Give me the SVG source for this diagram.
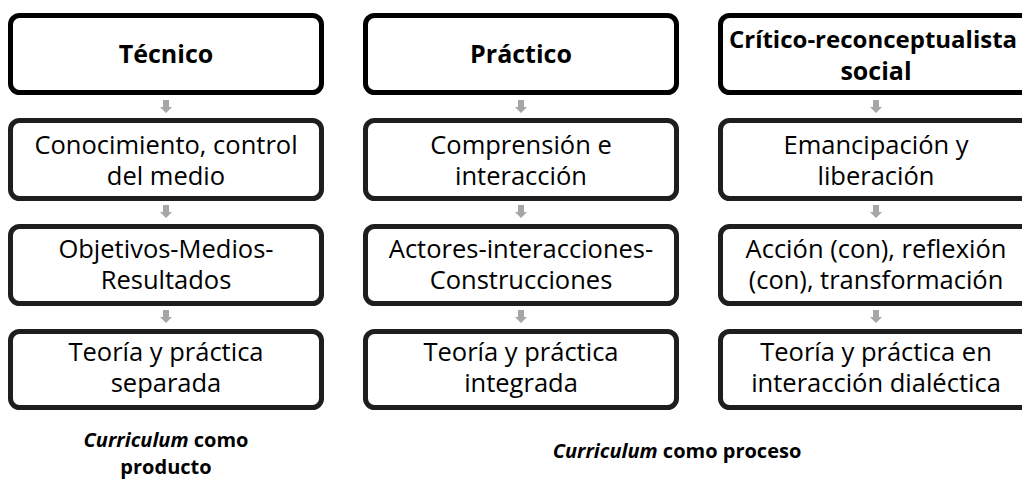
<svg xmlns="http://www.w3.org/2000/svg" width="1022" height="481" viewBox="0 0 1022 481">
<style>
.bg{fill:#fff}
.box{fill:#fff;stroke:#1e1e1e;stroke-width:5}
.top{stroke:#000}
.t{font-family:"Open Sans","Noto Sans",sans-serif;font-size:25.5px;fill:#000;text-anchor:middle}
.h{font-family:"Open Sans","Noto Sans",sans-serif;font-size:25px;font-weight:bold;fill:#000;text-anchor:middle}
.h2{font-size:24px}
.c{font-family:"Open Sans","Noto Sans",sans-serif;font-size:20px;font-weight:bold;fill:#000;text-anchor:middle}
.arr{fill:#a6a6a6}
</style>
<defs>
<path id="ar" d="M-3,0 H3 V7 H6 L0,13 L-6,7 H-3 Z"/>
</defs>
<rect class="bg" x="0" y="0" width="1022" height="481"/>
<g id="connectors">
<use href="#ar" class="arr" x="166" y="100"/>
<use href="#ar" class="arr" x="166" y="205"/>
<use href="#ar" class="arr" x="166" y="310"/>
<use href="#ar" class="arr" x="521" y="100"/>
<use href="#ar" class="arr" x="521" y="205"/>
<use href="#ar" class="arr" x="521" y="310"/>
<use href="#ar" class="arr" x="876" y="100"/>
<use href="#ar" class="arr" x="876" y="205"/>
<use href="#ar" class="arr" x="876" y="310"/>
</g>
<g id="tecnico">
<rect class="box top" x="10.5" y="15.5" width="311" height="77" rx="9"/>
<text class="h" x="166" y="63">Técnico</text>
</g>
<g id="conocimiento">
<rect class="box" x="10.5" y="120.5" width="311" height="78" rx="9"/>
<text class="t" x="166" y="154">Conocimiento, control</text>
<text class="t" x="166" y="185">del medio</text>
</g>
<g id="objetivos">
<rect class="box" x="10.5" y="226.5" width="311" height="77" rx="9"/>
<text class="t" x="166" y="258">Objetivos-Medios-</text>
<text class="t" x="166" y="289">Resultados</text>
</g>
<g id="separada">
<rect class="box" x="10.5" y="331.5" width="311" height="76" rx="9"/>
<text class="t" x="166" y="361">Teoría y práctica</text>
<text class="t" x="166" y="392">separada</text>
</g>
<g id="practico">
<rect class="box top" x="365.5" y="15.5" width="311" height="77" rx="9"/>
<text class="h" x="521" y="63">Práctico</text>
</g>
<g id="comprension">
<rect class="box" x="365.5" y="120.5" width="311" height="78" rx="9"/>
<text class="t" x="521" y="154">Comprensión e</text>
<text class="t" x="521" y="185">interacción</text>
</g>
<g id="actores">
<rect class="box" x="365.5" y="226.5" width="311" height="77" rx="9"/>
<text class="t" x="521" y="258">Actores-interacciones-</text>
<text class="t" x="521" y="289">Construcciones</text>
</g>
<g id="integrada">
<rect class="box" x="365.5" y="331.5" width="311" height="76" rx="9"/>
<text class="t" x="521" y="361">Teoría y práctica</text>
<text class="t" x="521" y="392">integrada</text>
</g>
<g id="critico">
<rect class="box top" x="720.5" y="15.5" width="311" height="77" rx="9"/>
<text class="h h2" x="873" y="48">Crítico-reconceptualista</text>
<text class="h" x="876" y="80">social</text>
</g>
<g id="emancipacion">
<rect class="box" x="720.5" y="120.5" width="311" height="78" rx="9"/>
<text class="t" x="876" y="154">Emancipación y</text>
<text class="t" x="876" y="185">liberación</text>
</g>
<g id="accion">
<rect class="box" x="720.5" y="226.5" width="311" height="77" rx="9"/>
<text class="t" x="876" y="258">Acción (con), reflexión</text>
<text class="t" x="876" y="289">(con), transformación</text>
</g>
<g id="dialectica">
<rect class="box" x="720.5" y="331.5" width="311" height="76" rx="9"/>
<text class="t" x="876" y="361">Teoría y práctica en</text>
<text class="t" x="876" y="392">interacción dialéctica</text>
</g>
<g id="captions">
<text class="c" x="166" y="447"><tspan font-style="italic">Curriculum</tspan> como</text>
<text class="c" x="166" y="474">producto</text>
<text class="c" x="677" y="458"><tspan font-style="italic">Curriculum</tspan> como proceso</text>
</g>
</svg>
